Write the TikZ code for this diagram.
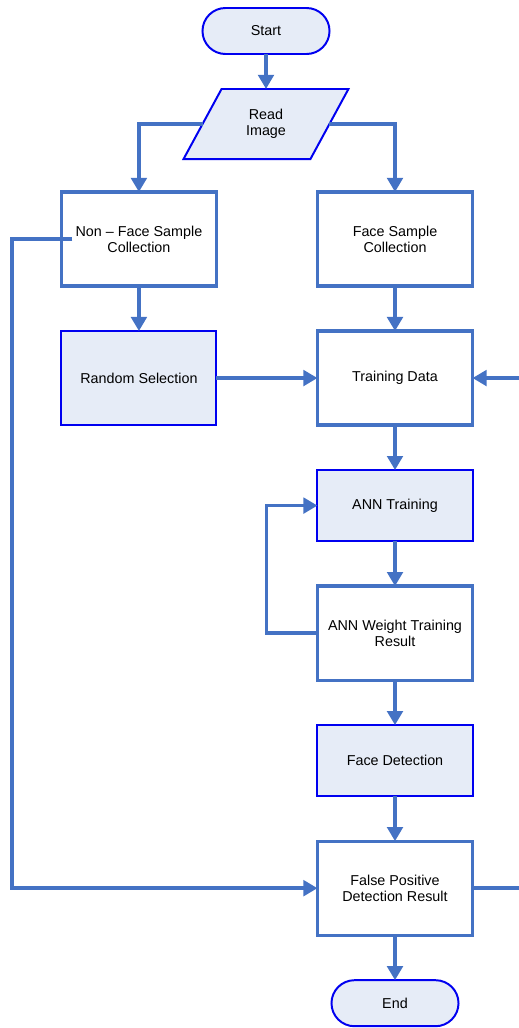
\documentclass[tikz,border=0pt]{standalone}
\usepackage{fontspec}
\setmainfont{Liberation Sans}
\usepackage{xcolor}
\usepackage{tikz}
\usetikzlibrary{positioning}
\usetikzlibrary{arrows.meta,shapes.geometric}
\definecolor{linecol}{RGB}{68,114,196}
\definecolor{boxfill}{RGB}{230,236,247}
\definecolor{boxedge}{RGB}{0,0,240}
\tikzset{edge/.style = {->,> = {Triangle[length=10pt,width=11pt]},draw=linecol,line width=2.5pt}}
\tikzset{wire/.style = {draw=linecol,line width=2.5pt}}

\begin{document}
\begin{tikzpicture}[x=0.025cm,y=-0.025cm,node distance=1.125cm,
    every node/.style={font=\fontsize{10.2}{11.4}\selectfont,align=center},
    plain box/.style={rectangle,draw=linecol,line width=2.3pt,fill=white,outer sep=0pt,minimum width=3.875cm,minimum height=2.35cm},
    shade box/.style={plain box,draw=boxedge,line width=1.4pt,fill=boxfill},
    term/.style={rectangle,rounded corners=0.575cm,draw=boxedge,line width=1.4pt,fill=boxfill,outer sep=0pt,minimum width=3.175cm,minimum height=1.15cm},
    io/.style={trapezium,trapezium left angle=61.5,trapezium right angle=118.5,trapezium stretches=true,draw=boxedge,line width=1.4pt,fill=boxfill,outer sep=0pt,minimum width=4.15cm,minimum height=1.75cm}]
    \useasboundingbox (0,0) rectangle (519,1028);

    \node[term] (st) at (266,31) {Start};
    \node[io] (rd) at (266,124) {Read\\Image};
    \node[plain box] (fs) at (395,239) {Face Sample\\Collection};
    \node[plain box] (nf) [left=2.525cm of fs] {Non – Face Sample\\Collection};
    \node[plain box] (td) [below=of fs] {Training Data};
    \node[shade box] (rs) [left=2.525cm of td] {Random Selection};
    \node[shade box,minimum height=1.775cm] (at) [below=of td] {ANN Training};
    \node[plain box] (aw) [below=of at] {ANN Weight Training\\Result};
    \node[shade box,minimum height=1.775cm] (fd) [below=of aw] {Face Detection};
    \node[plain box] (fp) [below=of fd] {False Positive\\Detection Result};
    \node[term] (en) [below=of fp] {End};

    % free ends at the left and right margins
    \coordinate (lft) at (12,0);
    \coordinate (rgt) at (519,0);

    \draw[edge] (st) -- (rd);
    \draw[edge] (rd.west) -| (nf.north);
    \draw[edge] (rd.east) -| (fs.north);
    \draw[edge] (nf) -- (rs);
    \draw[edge] (fs) -- (td);
    \draw[edge] (rs) -- (td);
    \draw[edge] (td) -- (at);
    \draw[edge] (at) -- (aw);
    \draw[edge] (aw.west) -- ++(-51,0) |- (at.west);
    \draw[edge] (aw) -- (fd);
    \draw[edge] (fd) -- (fp);
    \draw[edge] (fp) -- (en);
    \draw[edge] ([xshift=0.275cm]nf.west) -| (lft |- fp.west) -- (fp.west);
    \draw[wire] (fp.east) -- (rgt |- fp.east);
    \draw[edge] (rgt |- td.east) -- (td.east);
\end{tikzpicture}
\end{document}
